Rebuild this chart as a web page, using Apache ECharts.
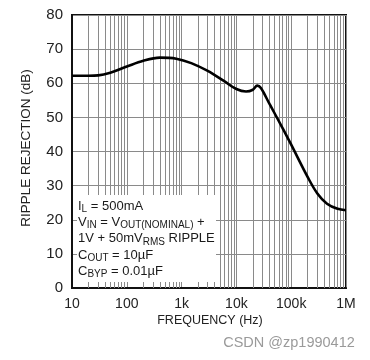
<!DOCTYPE html>
<html>
<head>
<meta charset="utf-8">
<script src="https://cdn.jsdelivr.net/npm/echarts@6/dist/echarts.min.js"></script>
<style>html,body{margin:0;padding:0;background:#fff;}#c{width:370px;height:360px;}</style>
</head>
<body>
<div id="c"></div>
<script>
// Data
var freq = [10, 20, 30, 50, 100, 200, 400, 800, 1500, 3000, 6000, 10000, 15000, 20000, 24000, 28000, 40000, 70000, 100000, 200000, 300000, 450000, 700000, 1000000];
var rejection = [62.2, 62.2, 62.3, 63.1, 64.9, 66.6, 67.5, 67.2, 65.9, 63.6, 60.6, 58.3, 57.6, 58.1, 59.3, 58.6, 54.0, 46.8, 42.0, 32.5, 27.7, 24.7, 23.2, 22.8];
var xTickValues = [10, 100, 1000, 10000, 100000, 1000000];
var xTickLabels = ['10', '100', '1k', '10k', '100k', '1M'];
var minorGridFreqs = [];
[10, 100, 1000, 10000, 100000].forEach(function (d) { for (var k = 2; k <= 9; k++) minorGridFreqs.push(d * k); });
var noteLines = [
  'I{s|L} = 500mA',
  'V{s|IN} = V{s|OUT(NOMINAL)} +',
  '1V + 50mV{s|RMS} RIPPLE',
  'C{s|OUT} = 10\u00b5F',
  'C{s|BYP} = 0.01\u00b5F'
];

var FONT = "'Liberation Sans', Arial, sans-serif";
var GRID = '#8a8a8a';
var chart = echarts.init(document.getElementById('c'), null, {renderer: 'canvas'});
var pts = freq.map(function (f, i) { return [f, rejection[i]]; });
chart.setOption({
  animation: false,
  backgroundColor: '#fff',
  grid: {left: 72, right: 24, top: 15, bottom: 72, show: true, borderColor: '#111', borderWidth: 2, backgroundColor: 'transparent'},
  xAxis: {
    type: 'log', logBase: 10, min: 10, max: 1000000,
    axisLine: {show: true, lineStyle: {color: '#111', width: 2}},
    axisTick: {show: false},
    splitLine: {show: true, lineStyle: {color: GRID, width: 1}},
    minorSplitLine: {show: false},
    axisLabel: {
      fontFamily: FONT, fontSize: 14, color: '#222', margin: 9,
      formatter: function (v) { var i = xTickValues.indexOf(Math.round(v)); return i >= 0 ? xTickLabels[i] : ''; }
    }
  },
  yAxis: {
    type: 'value', min: 0, max: 80, interval: 10,
    axisLine: {show: true, lineStyle: {color: '#111', width: 2}},
    axisTick: {show: false},
    splitLine: {show: true, lineStyle: {color: GRID, width: 1}},
    axisLabel: {fontFamily: FONT, fontSize: 15, color: '#222', margin: 9}
  },
  series: [
    {
      type: 'line', data: [], z: 1, silent: true,
      markLine: {
        z: 1, silent: true, symbol: ['none', 'none'], animation: false,
        label: {show: false},
        lineStyle: {color: GRID, width: 1, type: 'solid'},
        emphasis: {disabled: true},
        data: minorGridFreqs.map(function (f) { return {xAxis: f}; })
      }
    },
    {
      type: 'line', data: pts, z: 5, smooth: 0.35, symbol: 'none',
      lineStyle: {color: '#000', width: 2.6}
    }
  ],
  graphic: [
    {type: 'rect', z: 3, shape: {x: 77, y: 195, width: 139, height: 87}, style: {fill: '#fff'}},
    {type: 'text', z: 4, x: 78, y: 198,
      style: {text: noteLines.join('\n'), fontFamily: FONT, fontSize: 13, lineHeight: 16.3, fill: '#1a1a1a',
        rich: {s: {fontFamily: FONT, fontSize: 10, lineHeight: 10, verticalAlign: 'bottom', fill: '#1a1a1a'}}}},
    {type: 'text', z: 4, x: 210, y: 321,
      style: {text: 'FREQUENCY (Hz)', fontFamily: FONT, fontSize: 12.5, fill: '#222', align: 'center', verticalAlign: 'middle'}},
    {type: 'text', z: 4, x: 26, y: 148, rotation: Math.PI / 2,
      style: {text: 'RIPPLE REJECTION (dB)', fontFamily: FONT, fontSize: 13.5, fill: '#222', align: 'center', verticalAlign: 'middle'}},
    {type: 'text', z: 4, x: 289, y: 343,
      style: {text: 'CSDN @zp1990412', fontFamily: FONT, fontSize: 14.5, fill: '#9a9a9a', align: 'center', verticalAlign: 'middle'}}
  ]
});
</script>
</body>
</html>
